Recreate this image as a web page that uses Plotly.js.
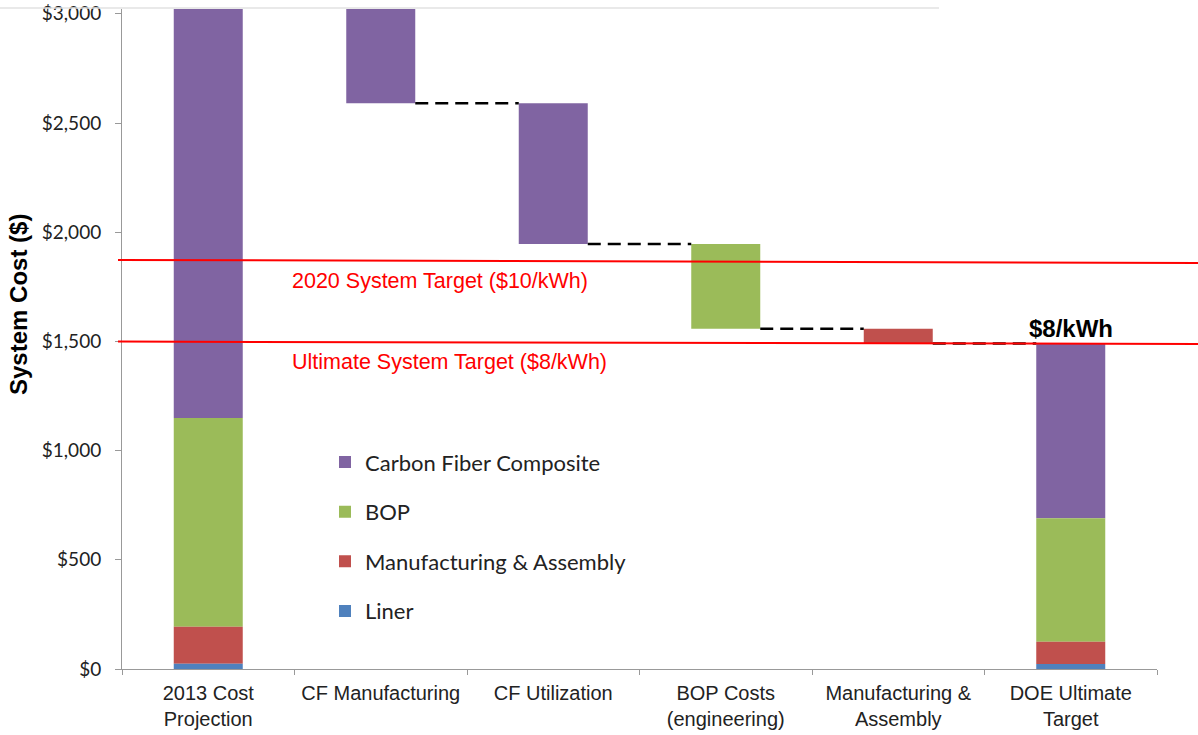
<!DOCTYPE html>
<html>
<head>
<meta charset="utf-8">
<script src="https://cdn.plot.ly/plotly-3.0.1.min.js"></script>
<style>html,body{margin:0;padding:0;background:#fff;}#chart{width:1198px;height:735px;}</style>
</head>
<body>
<div id="chart"></div>
<script>
// ---- data ----
const categories = ["2013 Cost<br>Projection", "CF Manufacturing", "CF Utilization",
                    "BOP Costs<br>(engineering)", "Manufacturing &<br>Assembly", "DOE Ultimate<br>Target"];
// stacking order, bottom to top
const seriesNames = ["Liner", "Manufacturing & Assembly", "BOP", "Carbon Fiber Composite"];
const seriesColors = ["#4F81BD", "#C0504D", "#9BBB59", "#8064A2"];
// stacked components of the two full bars ($)
const liner         = [24,   null, null, null, null, 23];
const manufacturing = [170,  null, null, null, null, 102];
const bop           = [955,  null, null, null, null, 565];
const carbonFiber   = [2011, null, null, null, null, 798];
// waterfall steps: cost level before and after each reduction ($)
const stepFrom   = [null, 3160, 2590, 1946, 1558, null];
const stepTo     = [null, 2590, 1946, 1558, 1490, null];
const stepSeries = [null, "Carbon Fiber Composite", "Carbon Fiber Composite", "BOP", "Manufacturing & Assembly", null];
// target lines ($) at the left and right ends
const target2020     = [1873, 1859];
const targetUltimate = [1499, 1488];
const targetLabels = ["2020 System Target ($10/kWh)", "Ultimate System Target ($8/kWh)"];
const endLabel = "$8/kWh";
const yTitle = "System Cost ($)";
const yTicks = [0, 500, 1000, 1500, 2000, 2500, 3000];
const yTickText = yTicks.map(v => "$" + v.toLocaleString("en-US"));

// ---- build traces ----
const stacks = [liner, manufacturing, bop, carbonFiber];
const traces = [];
// add top series first so the legend lists them top-down like the reference
for (let s = seriesNames.length - 1; s >= 0; s--) {
  const name = seriesNames[s];
  const y = [], base = [];
  categories.forEach((c, i) => {
    if (stacks[s][i] != null) {
      let b = 0;
      for (let k = 0; k < s; k++) b += stacks[k][i] || 0;
      y.push(stacks[s][i]); base.push(b);
    } else if (stepSeries[i] === name) {
      y.push(stepFrom[i] - stepTo[i]); base.push(stepTo[i]);
    } else {
      y.push(null); base.push(null);
    }
  });
  traces.push({
    type: "bar", name: name, x: categories, y: y, base: base,
    width: 0.4, marker: {color: seriesColors[s], line: {width: 0}},
    legendgroup: name, hoverinfo: "skip"
  });
}
// dashed connectors between consecutive step bars
for (let i = 1; i < categories.length - 1; i++) {
  if (stepTo[i] == null) continue;
  traces.push({
    type: "scatter", mode: "lines", xaxis: "x2", yaxis: "y",
    x: [i + 0.2, i + 0.8], y: [stepTo[i], stepTo[i]],
    line: {color: "#000", width: 2.5, dash: "13px,7px"},
    showlegend: false, hoverinfo: "skip"
  });
}

const pxL = 122, pxR = 1157, plotW = pxR - pxL;
const xp = px => (px - pxL) / plotW;

const layout = {
  width: 1198, height: 735,
  margin: {l: 122, r: 41, t: 9, b: 66},
  paper_bgcolor: "#fff", plot_bgcolor: "#fff",
  barmode: "overlay",
  showlegend: true,
  legend: {
    x: xp(325), xanchor: "left", y: 0.345, yanchor: "top",
    traceorder: "grouped", tracegroupgap: 18,
    font: {family: "Lato, 'Open Sans', sans-serif", size: 22, color: "#222"},
    bgcolor: "rgba(0,0,0,0)"
  },
  xaxis: {
    type: "category", range: [-0.5, 5.5], tickson: "boundaries",
    ticks: "outside", ticklen: 5, tickcolor: "#999", ticklabelstandoff: 6,
    showline: true, linecolor: "#999", linewidth: 1,
    showgrid: false, zeroline: false,
    tickfont: {family: "'Liberation Sans', Arial, sans-serif", size: 20, color: "#222"}
  },
  xaxis2: {overlaying: "x", range: [-0.5, 5.5], visible: false},
  yaxis: {
    range: [0, 3022], tickmode: "array", tickvals: yTicks, ticktext: yTickText,
    ticks: "outside", ticklen: 6, tickcolor: "#999", ticklabelstandoff: 10,
    showline: true, linecolor: "#999", linewidth: 1,
    showgrid: false, zeroline: false,
    tickfont: {family: "Lato, 'Open Sans', sans-serif", size: 19, color: "#222"}
  },
  shapes: [
    {type: "line", xref: "paper", yref: "y", x0: xp(118), x1: xp(1198),
     y0: target2020[0], y1: target2020[1], line: {color: "#FF0000", width: 2}, layer: "above"},
    {type: "line", xref: "paper", yref: "y", x0: xp(118), x1: xp(1198),
     y0: targetUltimate[0], y1: targetUltimate[1], line: {color: "#FF0000", width: 2}, layer: "above"},
    {type: "line", xref: "paper", yref: "paper", x0: xp(0), x1: xp(939), y0: 1.0015, y1: 1.0015,
     line: {color: "#e2e2e2", width: 1.5}}
  ],
  annotations: [
    {xref: "paper", yref: "paper", x: xp(18), y: (669 - 305) / 660, xanchor: "center", yanchor: "middle",
     text: "<b>" + yTitle + "</b>", textangle: -90, showarrow: false,
     font: {family: "'Liberation Sans', Arial, sans-serif", size: 24, color: "#000"}},
    {xref: "paper", yref: "y", x: xp(290), y: target2020[0] - 95, xanchor: "left", yanchor: "middle",
     text: targetLabels[0], showarrow: false,
     font: {family: "'Liberation Sans', Arial, sans-serif", size: 21.5, color: "#FF0000"}},
    {xref: "paper", yref: "y", x: xp(290), y: targetUltimate[0] - 92, xanchor: "left", yanchor: "middle",
     text: targetLabels[1], showarrow: false,
     font: {family: "'Liberation Sans', Arial, sans-serif", size: 21.5, color: "#FF0000"}},
    {xref: "x2", yref: "y", x: 5, y: targetUltimate[1] + 72, xanchor: "center", yanchor: "middle",
     text: "<b>" + endLabel + "</b>", showarrow: false,
     font: {family: "'Liberation Sans', Arial, sans-serif", size: 24, color: "#000"}}
  ]
};

Plotly.newPlot("chart", traces, layout, {staticPlot: true, displayModeBar: false});
</script>
</body>
</html>
